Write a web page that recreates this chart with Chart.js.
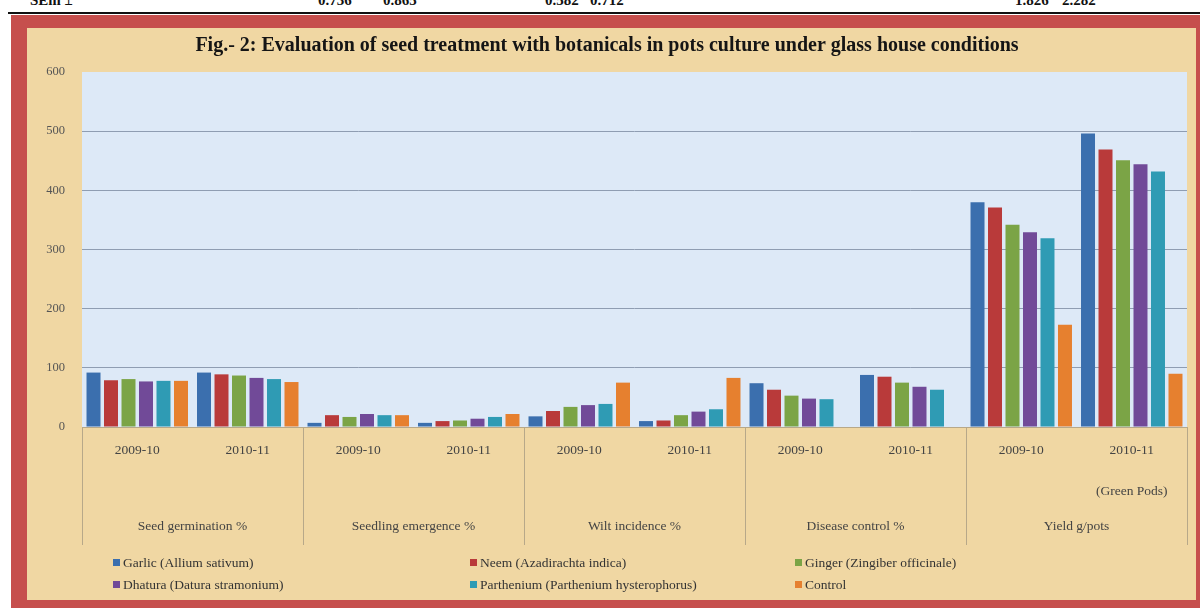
<!DOCTYPE html>
<html><head><meta charset="utf-8">
<script src="https://cdn.jsdelivr.net/npm/chart.js@4.4.0/dist/chart.umd.min.js"></script>
<style>
html,body{margin:0;padding:0;background:#fff;width:1200px;height:608px;overflow:hidden;position:relative;font-family:"Liberation Serif","DejaVu Serif",serif;}
#sem{position:absolute;left:0;top:-8px;width:1200px;height:20px;font-weight:bold;font-size:15px;color:#111;}
#sem span{position:absolute;top:0;white-space:nowrap;}
#rule{position:absolute;left:8px;top:12px;width:1192px;height:2px;background:#111;}
#wrap{position:absolute;left:11px;top:15px;width:1189px;height:593px;}
#legend{position:absolute;left:0;top:0;width:1189px;height:593px;pointer-events:none;}
.li{position:absolute;font-size:13.5px;color:#333;white-space:nowrap;line-height:16px;}
.li i{display:inline-block;width:7px;height:7px;margin-right:3px;vertical-align:1px;}
</style></head>
<body>
<div id="sem"></div>
<div id="rule"></div>
<div id="wrap"><canvas id="c" width="1189" height="593"></canvas><div id="legend"></div></div>
<script>
// ---- data ----
const semLabel = 'SEm ±';
const semValues = ['0.736','0.865','0.582','0.712','1.826','2.282'];
const title = 'Fig.- 2: Evaluation of seed treatment with botanicals in pots culture under glass house conditions';
const groups = ['Seed germination %','Seedling emergence %','Wilt incidence %','Disease control %','Yield g/pots'];
const years = ['2009-10','2010-11'];
const yieldNote = '(Green Pods)';
const seriesNames = ['Garlic (Allium sativum)','Neem (Azadirachta indica)','Ginger (Zingiber officinale)','Dhatura (Datura stramonium)','Parthenium (Parthenium hysterophorus)','Control'];
const garlic     = [92, 92,  7,  7, 18, 10, 74, 88, 380, 496];
const neem       = [79, 89, 20, 10, 27, 11, 63, 85, 371, 469];
const ginger     = [81, 87, 17, 11, 34, 20, 53, 75, 342, 451];
const dhatura    = [77, 83, 22, 14, 37, 26, 48, 68, 329, 444];
const parthenium = [78, 81, 20, 17, 39, 30, 47, 63, 319, 432];
const control    = [78, 76, 20, 22, 75, 83,  0,  0, 173,  90];
const yTicks = [0,100,200,300,400,500,600];

// ---- styles ----
const colors = ['#3b6fae','#b93a3a','#7ba446','#714a98','#2f9bb4','#e6802f'];
const semX = [318,383,545,590,1015,1062];

// SEm row
const sem = document.getElementById('sem');
let s = document.createElement('span'); s.textContent = semLabel; s.style.left='30px'; sem.appendChild(s);
semValues.forEach((v,i)=>{const e=document.createElement('span');e.textContent=v;e.style.left=semX[i]+'px';sem.appendChild(e);});

const labels = [];
groups.forEach((g,gi)=>years.forEach((y,yi)=>{
  if (gi===groups.length-1 && yi===1) labels.push([y,'',yieldNote]); else labels.push(y);
}));
const allSeries = [garlic,neem,ginger,dhatura,parthenium,control];

const bgPlugin = {
  id:'bg',
  beforeDraw(chart){
    const c=chart.ctx, W=chart.width, H=chart.height, a=chart.chartArea;
    c.save();
    c.fillStyle='#c64f4d'; c.fillRect(0,0,W,H);
    c.fillStyle='#f0d7a3'; c.fillRect(16,13,W-16-4,H-13-8);
    c.fillStyle='#dde9f7'; c.fillRect(a.left,a.top,a.right-a.left,a.bottom-a.top);
    c.restore();
  }
};
const divPlugin = {
  id:'dividers',
  afterDraw(chart){
    const c=chart.ctx, x=chart.scales.x, a=chart.chartArea;
    c.save(); c.strokeStyle='#b7a889'; c.lineWidth=1;
    for(let k=0;k<=groups.length;k++){
      let px;
      if(k===0) px=a.left; else if(k===groups.length) px=a.right;
      else px=(x.getPixelForValue(2*k-1)+x.getPixelForValue(2*k))/2;
      px=Math.round(px)+0.5;
      c.beginPath(); c.moveTo(px,a.bottom); c.lineTo(px,a.bottom+118); c.stroke();
    }
    c.restore();
  }
};

const chart = new Chart(document.getElementById('c'), {
  type:'bar',
  data:{
    labels: labels,
    datasets: allSeries.map((d,i)=>({label:seriesNames[i],data:d,backgroundColor:colors[i],borderWidth:0,
      barPercentage:0.8,categoryPercentage:0.95,xAxisID:'x'}))
  },
  options:{
    responsive:false, animation:false,
    layout:{padding:{left:16,right:13,top:13,bottom:72}},
    plugins:{
      legend:{display:false}, tooltip:{enabled:false},
      title:{display:true,text:title,color:'#151515',font:{family:'"Liberation Serif", serif',size:20,weight:'bold'},padding:{top:6,bottom:14}}
    },
    scales:{
      y:{min:0,max:600,afterBuildTicks(ax){ax.ticks=yTicks.map(v=>({value:v}));},
        afterFit(ax){ax.width=55;},
        border:{display:false},
        grid:{color:(ctx)=> (ctx.tick && (ctx.tick.value===0||ctx.tick.value===600)) ? 'rgba(0,0,0,0)' : '#8f9db2',lineWidth:1,drawTicks:false},
        ticks:{padding:17,color:'#555',font:{family:'"Liberation Serif", serif',size:12.5}}
      },
      x:{type:'category',position:'bottom',
        afterFit(ax){ax.height=79;},
        grid:{display:false}, border:{display:true,color:'#b7a889'},
        ticks:{padding:5,color:'#444',maxRotation:0,autoSkip:false,font:{family:'"Liberation Serif", serif',size:13.5,lineHeight:'20.5px'}}
      },
      x2:{type:'category',position:'bottom',labels:groups,offset:true,
        afterFit(ax){ax.height=30;},
        grid:{display:false}, border:{display:false},
        ticks:{padding:4,color:'#444',maxRotation:0,autoSkip:false,font:{family:'"Liberation Serif", serif',size:13.5}}
      }
    }
  },
  plugins:[bgPlugin,divPlugin]
});

// HTML legend
const lg=document.getElementById('legend');
const colX=[102,459,784], rowY=[540,562];
seriesNames.forEach((n,i)=>{
  const d=document.createElement('div'); d.className='li';
  d.style.left=colX[i%3]+'px'; d.style.top=rowY[Math.floor(i/3)]+'px';
  d.innerHTML='<i style="background:'+colors[i]+'"></i>';
  d.appendChild(document.createTextNode(n));
  lg.appendChild(d);
});
</script>
</body></html>
